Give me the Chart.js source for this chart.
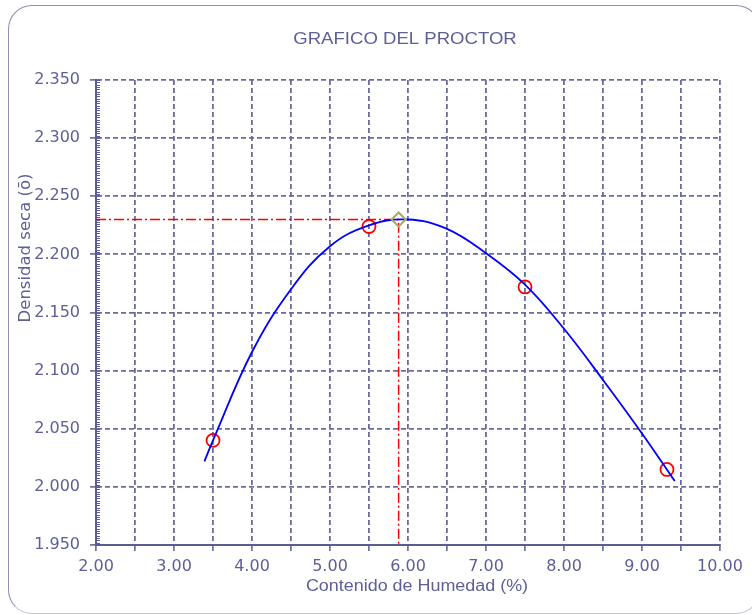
<!DOCTYPE html>
<html>
<head>
<meta charset="utf-8">
<script src="https://cdn.jsdelivr.net/npm/chart.js@4"></script>
<style>
  html, body { margin: 0; padding: 0; background: #fff; }
  #wrap { position: relative; width: 752px; height: 615px; overflow: hidden; }
  #frame {
    position: absolute; left: 8px; top: 5px; width: 752px; height: 609px;
    box-sizing: border-box; border: 1.5px solid #8e8eb6; border-bottom-color: #c6c6de;
    border-radius: 24px;
  }
  canvas { position: absolute; left: 0; top: 0; }
</style>
</head>
<body>
<div id="wrap">
  <div id="frame"></div>
  <canvas id="proctor" width="752" height="615"></canvas>
</div>
<script>
  // puntos del ensayo (humedad %, densidad seca)
  const ensayoX = [3.50, 5.50, 7.50, 9.32];
  const ensayoY = [2.040, 2.224, 2.172, 2.015];

  // curva de ajuste
  const curvaX = [3.39, 3.50, 4.00, 4.50, 5.00, 5.50, 6.00, 6.50, 7.00, 7.50, 8.00, 8.50, 9.00, 9.42];
  const curvaY = [2.022, 2.040, 2.116, 2.170, 2.207, 2.225, 2.230, 2.222, 2.201, 2.174, 2.136, 2.092, 2.046, 2.005];

  // optimo (humedad optima, densidad maxima)
  const optimoX = [5.88];
  const optimoY = [2.230];

  // lineas guia hacia los ejes
  const guiaX = [2.00, 5.88, 5.88];
  const guiaY = [2.230, 2.230, 1.950];

  const xTicks = [2.0, 2.5, 3.0, 3.5, 4.0, 4.5, 5.0, 5.5, 6.0, 6.5, 7.0, 7.5, 8.0, 8.5, 9.0, 9.5, 10.0];
  const yTicks = [1.95, 2.00, 2.05, 2.10, 2.15, 2.20, 2.25, 2.30, 2.35];

  const toXY = (xs, ys) => xs.map((x, i) => ({ x: x, y: ys[i] }));

  const textColor = '#5e5e98';
  const gridColor = '#6c6c9c';
  const axisColor = '#5c5c94';

  const textos = {
    id: 'textos',
    afterDraw(chart) {
      const ctx = chart.ctx;
      const y = chart.scales.y;
      // marcas menores del eje Y
      ctx.save();
      ctx.strokeStyle = axisColor;
      ctx.lineWidth = 1;
      for (let v = 1950; v <= 2350; v += 2) {
        const py = Math.round(y.getPixelForValue(v / 1000)) + 0.5;
        ctx.beginPath();
        ctx.moveTo(chart.chartArea.left, py);
        ctx.lineTo(chart.chartArea.left + 4, py);
        ctx.stroke();
      }
      ctx.restore();

      ctx.save();
      ctx.fillStyle = textColor;
      ctx.textAlign = 'center';
      ctx.textBaseline = 'middle';
      ctx.font = '16px "Liberation Sans", Arial, sans-serif';
      ctx.save();
      ctx.translate(405, 40);
      ctx.scale(1.16, 1);
      ctx.fillText('GRAFICO DEL PROCTOR', 0, 0);
      ctx.restore();

      ctx.save();
      ctx.translate(417, 587);
      ctx.scale(1.12, 1);
      ctx.fillText('Contenido de Humedad (%)', 0, 0);
      ctx.restore();

      ctx.save();
      ctx.translate(26, 248);
      ctx.rotate(-Math.PI / 2);
      ctx.font = '16.5px "DejaVu Sans", sans-serif';
      ctx.fillText('Densidad seca (ō)', 0, 0);
      ctx.restore();
      ctx.restore();
    }
  };

  new Chart(document.getElementById('proctor'), {
    type: 'line',
    data: {
      datasets: [
        {
          label: 'Optimo',
          data: toXY(optimoX, optimoY),
          showLine: false,
          pointStyle: 'rectRot',
          pointRadius: 7,
          borderColor: '#a4ae58',
          backgroundColor: 'rgba(255,255,255,0)',
          pointBorderWidth: 2
        },
        {
          label: 'Curva',
          data: toXY(curvaX, curvaY),
          borderColor: '#0000ff',
          borderWidth: 1.8,
          pointRadius: 0,
          tension: 0.4
        },
        {
          label: 'Ensayos',
          data: toXY(ensayoX, ensayoY),
          showLine: false,
          pointStyle: 'circle',
          pointRadius: 6.5,
          borderColor: '#ff0000',
          backgroundColor: 'rgba(255,255,255,0)',
          pointBorderWidth: 1.8
        },
        {
          label: 'Guia',
          data: toXY(guiaX, guiaY),
          borderColor: '#ff0000',
          borderWidth: 1.5,
          borderDash: [10, 3, 2, 3],
          pointRadius: 0,
          tension: 0
        }
      ]
    },
    options: {
      responsive: false,
      animation: false,
      layout: { padding: { left: 12, top: 80, right: 32, bottom: 0 } },
      plugins: { legend: { display: false }, tooltip: { enabled: false } },
      scales: {
        x: {
          type: 'linear',
          min: 2, max: 10,
          afterBuildTicks: s => { s.ticks = xTicks.map(v => ({ value: v })); },
          afterFit: s => { s.height = 70; },
          grid: { color: gridColor, lineWidth: 1.8, tickLength: 6, tickColor: axisColor, tickWidth: 1.5 },
          border: { display: true, color: axisColor, width: 2, dash: [5, 3] },
          ticks: {
            color: textColor,
            padding: 6,
            maxRotation: 0,
            autoSkip: false,
            font: { family: 'DejaVu Sans', size: 16 },
            callback: v => (Number.isInteger(v) ? v.toFixed(2) : '')
          }
        },
        y: {
          type: 'linear',
          min: 1.95, max: 2.35,
          afterBuildTicks: s => { s.ticks = yTicks.map(v => ({ value: v })); },
          afterFit: s => { s.width = 84; },
          grid: { color: gridColor, lineWidth: 1.8, tickLength: 6, tickColor: axisColor, tickWidth: 1.5 },
          border: { display: true, color: axisColor, width: 2, dash: [5, 3] },
          ticks: {
            color: textColor,
            padding: 10,
            autoSkip: false,
            font: { family: 'DejaVu Sans', size: 16 },
            callback: v => v.toFixed(3)
          }
        }
      }
    },
    plugins: [textos]
  });
</script>
</body>
</html>
